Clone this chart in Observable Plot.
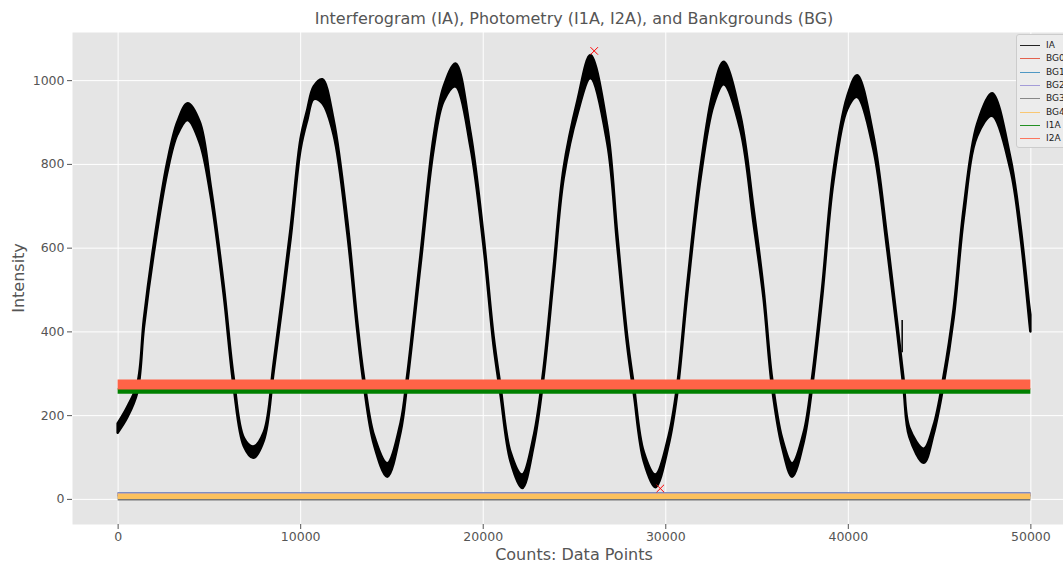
<!DOCTYPE html>
<html><head><meta charset="utf-8">
<script src="https://cdn.jsdelivr.net/npm/d3@7"></script>
<script src="https://cdn.jsdelivr.net/npm/@observablehq/plot@0.6"></script>
<style>
html,body{margin:0;padding:0;overflow:hidden;background:#fff;font-family:"DejaVu Sans",sans-serif;}
#wrap{position:relative;width:1063px;height:563px;overflow:hidden;}
#title{position:absolute;left:72px;width:1004px;top:9px;text-align:center;font-size:16px;color:#555;white-space:nowrap;}
#chart{position:absolute;left:0;top:32px;width:1080px;}
#chart svg{max-width:none !important;}
#xlabel{position:absolute;left:72px;width:1004px;top:545px;text-align:center;font-size:16px;color:#555;}
#ylabel{position:absolute;left:18px;top:278px;transform:translate(-50%,-50%) rotate(-90deg);font-size:16px;color:#555;white-space:nowrap;}
#legend{position:absolute;left:1016px;top:34px;width:70px;height:114px;background:#ECECEC;border:1px solid #CCCCCC;border-radius:3px;box-sizing:border-box;}
.row{position:absolute;left:0;height:12px;width:70px;}
.sw{position:absolute;left:3px;width:20px;height:1.2px;top:6px;opacity:0.85;}
.lb{position:absolute;left:29px;top:0;font-size:9px;line-height:12px;color:#222;}
</style></head><body>
<div id="wrap">
<div id="title">Interferogram (IA), Photometry (I1A, I2A), and Bankgrounds (BG)</div>
<div id="chart"></div>
<div id="xlabel">Counts: Data Points</div>
<div id="ylabel">Intensity</div>
<div id="legend"></div>
</div>
<script>
// Interferogram IA: envelope of the noisy trace
const iaX  = [0,530,1080,1440,1990,2720,3270,3834,4500,5090,5810,6360,6920,7430,8010,8550,9470,10020,10390,10740,11210,11830,12580,13130,13480,14040,14770,15500,15860,16590,17310,17860,18510,19330,20040,20590,20970,21520,22160,22800,23330,23880,24430,25190,25900,26820,27370,27910,28280,28820,29460,30190,30650,31200,31930,32640,33200,34120,34830,35380,35850,36400,36950,37590,38040,38590,39210,39960,40510,41400,42150,42700,43050,43370,44160,44700,45250,45800,46350,47080,47900,48900,49450,49940,50000];
const iaLo = [158,195,255,410,590,780,870,905,850,725,488,266,125,98,140,305,620,835,905,955,945,870,635,400,274,130,53,160,274,558,835,950,985,840,605,368,250,90,26,130,290,527,765,920,1005,850,605,368,250,90,28,130,250,488,765,940,990,880,660,480,266,124,53,138,266,480,757,930,960,835,598,400,266,148,86,155,274,433,671,866,915,788,630,425,400];
const iaHi = [180,220,275,430,612,805,900,945,900,750,510,288,145,125,160,325,645,860,930,985,1002,905,665,422,294,152,85,182,294,582,865,985,1040,875,630,390,270,112,58,152,310,550,790,952,1060,890,632,390,270,112,58,152,270,510,792,978,1044,915,695,502,288,145,85,160,288,502,782,960,1012,868,625,422,288,170,120,176,294,455,695,895,969,816,655,460,440];

// isolated spike on IA
const spikeX = [42950];
const spikeLo = [350];
const spikeHi = [427];

// marked extrema (red x)
const markX = [26080, 29700];
const markY = [1071, 26];

// backgrounds and photometry bands
const bandNames = ["BG0","BG1","BG2","BG3","BG4","I1A","I2A"];
const bandLo = [6, 6, 6, -4, 0, 251, 261];
const bandHi = [15, 16, 15, 8, 13, 264, 285];
const bandStart = 0, bandEnd = 50000;

const seriesNames = ["IA","BG0","BG1","BG2","BG3","BG4","I1A","I2A"];
const seriesColors = ["#000000","#E24A33","#348ABD","#988ED5","#777777","#FBC15E","#008000","#FF6347"];

const xTicks = [0,10000,20000,30000,40000,50000];
const yTicks = [0,200,400,600,800,1000];

const iaRows = iaX.map((x,i)=>({x, lo: iaLo[i], hi: iaHi[i]}));
const bandRows = bandNames.flatMap((name,i)=>[
  {name, x: bandStart, lo: bandLo[i], hi: bandHi[i]},
  {name, x: bandEnd, lo: bandLo[i], hi: bandHi[i]}
]);
const spikeRows = spikeX.map((x,i)=>({x, y1: spikeLo[i], y2: spikeHi[i]}));
const markRows = markX.map((x,i)=>({x, y: markY[i]}));

const plot = Plot.plot({
  width: 1080,
  height: 531,
  marginTop: 0,
  marginBottom: 39,
  marginLeft: 72,
  marginRight: 4,
  style: {fontFamily: "DejaVu Sans", fontSize: "12.5px", background: "transparent", overflow: "visible", maxWidth: "none"},
  x: {domain: [-2500, 52500]},
  y: {domain: [-60, 1115]},
  color: {domain: seriesNames, range: seriesColors},
  marks: [
    Plot.frame({fill: "#E5E5E5", stroke: null}),
    Plot.gridX(xTicks, {stroke: "white", strokeOpacity: 1, strokeWidth: 1}),
    Plot.gridY(yTicks, {stroke: "white", strokeOpacity: 1, strokeWidth: 1}),
    Plot.areaY(iaRows, {x: "x", y1: "lo", y2: "hi", fill: "black", stroke: "black", strokeWidth: 2.5, curve: "catmull-rom"}),
    Plot.ruleX(spikeRows, {x: "x", y1: "y1", y2: "y2", stroke: "black", strokeWidth: 1.5}),
    Plot.areaY(bandRows, {x: "x", y1: "lo", y2: "hi", z: "name", fill: "name", fillOpacity: 1}),
    Plot.dot(markRows, {x: "x", y: "y", symbol: "times", r: 3.5, stroke: "red", strokeWidth: 1}),
    Plot.axisX({ticks: xTicks, tickSize: 5, tickPadding: 3, color: "#555", label: null, tickFormat: d => String(d)}),
    Plot.axisY({ticks: yTicks, tickSize: 5, tickPadding: 3, color: "#555", label: null, tickFormat: d => String(d)})
  ]
});
document.getElementById("chart").appendChild(plot);

// legend
const legend = document.getElementById("legend");
const rowTops = [4, 17.3, 30.7, 44, 57.3, 70.7, 84, 97.3];
seriesNames.forEach((name,i)=>{
  const r = document.createElement("div");
  r.className = "row";
  r.style.top = rowTops[i] + "px";
  r.innerHTML = `<div class="sw" style="background:${seriesColors[i]}"></div><div class="lb">${name}</div>`;
  legend.appendChild(r);
});
</script>
</body></html>
